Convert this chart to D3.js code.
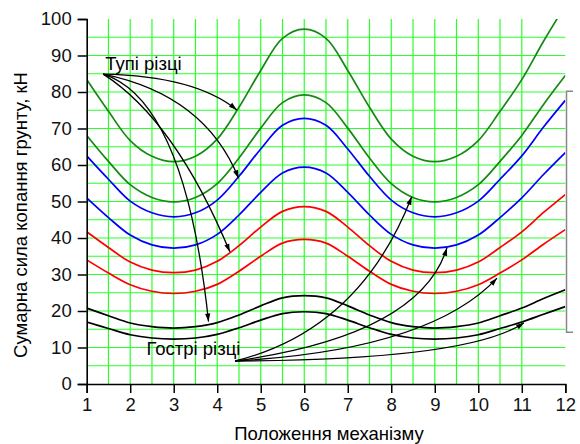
<!DOCTYPE html>
<html>
<head>
<meta charset="utf-8">
<style>
	body { margin: 0; background: #fff; }
	svg { font-family: "Liberation Sans", Arial, sans-serif; }
</style>
</head>
<body>
<svg id="chart" width="580" height="444"></svg>
<script src="https://cdnjs.cloudflare.com/ajax/libs/d3/7.8.5/d3.min.js"></script>
<script>

// positions of the mechanism
var positions = [1, 1.5, 2, 2.5, 3, 3.5, 4, 4.5, 5, 5.5, 6, 6.5, 7, 7.5, 8, 8.5, 9, 9.5, 10, 10.5, 11, 11.5, 12];

// total digging force, kN
var green1 = [83.4, 74.7, 66.7, 62.4, 60.9, 62.4, 67.1, 75.8, 85.9, 94.7, 97.2, 94.7, 85.9, 75.8, 67.1, 62.4, 60.9, 62.4, 66.7, 74.7, 83.4, 93.9, 103.7];
var green2 = [68.1, 61.0, 54.6, 51.1, 49.9, 51.1, 54.9, 61.9, 70.1, 77.1, 79.2, 77.1, 70.1, 61.9, 54.9, 51.1, 49.9, 51.1, 54.6, 61.0, 68.1, 76.6, 84.5];
var blue1  = [62.5, 56.1, 50.1, 46.9, 45.8, 46.9, 50.4, 56.9, 64.4, 70.9, 72.8, 70.9, 64.4, 56.9, 50.4, 46.9, 45.8, 46.9, 50.1, 56.1, 62.5, 70.4, 77.7];
var blue2  = [51.0, 45.6, 40.8, 38.1, 37.2, 38.1, 41.0, 46.3, 52.5, 57.8, 59.4, 57.8, 52.5, 46.3, 41.0, 38.1, 37.2, 38.1, 40.8, 45.6, 51.0, 57.4, 63.4];
var red1   = [41.7, 37.4, 33.4, 31.2, 30.5, 31.2, 33.6, 37.9, 43.0, 47.3, 48.6, 47.3, 43.0, 37.9, 33.6, 31.2, 30.5, 31.2, 33.4, 37.4, 41.7, 47.0, 51.9];
var red2   = [34.0, 30.4, 27.2, 25.4, 24.8, 25.4, 27.3, 30.9, 35.0, 38.6, 39.6, 38.6, 35.0, 30.9, 27.3, 25.4, 24.8, 25.4, 27.2, 30.4, 34.0, 38.3, 42.3];
var black1 = [20.8, 18.7, 16.7, 15.7, 15.3, 15.7, 16.8, 18.9, 21.4, 23.6, 24.2, 23.6, 21.4, 18.9, 16.8, 15.7, 15.3, 15.7, 16.7, 18.7, 20.8, 23.4, 25.8];
var black2 = [17.0, 15.2, 13.5, 12.6, 12.3, 12.6, 13.6, 15.4, 17.5, 19.3, 19.8, 19.3, 17.5, 15.4, 13.6, 12.6, 12.3, 12.6, 13.5, 15.2, 17.0, 19.1, 21.2];

var xTicks = [1, 2, 3, 4, 5, 6, 7, 8, 9, 10, 11, 12];
var yTicks = [0, 10, 20, 30, 40, 50, 60, 70, 80, 90, 100];

// annotations: arrow start, then [control, tip] for each arrow
var bluntLabel = "Тупі різці";
var bluntStart = [1.38, 84.9];
var bluntArrows = [
	[[3.49, 84.4], [4.45, 75.1]],
	[[3.72, 79.2], [4.49, 56.4]],
	[[3.03, 72.3], [4.29, 36.2]],
	[[3.26, 77.8], [3.80, 17.1]]
];
var sharpLabel = "Гострі різці";
var sharpStart = [4.41, 6.3];
var sharpArrows = [
	[[7.28, 14.8], [8.47, 51.3]],
	[[8.66, 13.4], [9.28, 37.3]],
	[[8.89, 9.3], [10.43, 29.0]],
	[[9.81, 6.6], [11.05, 16.8]]
];

var series = [
	{values: green1, color: "#138a13"},
	{values: green2, color: "#138a13"},
	{values: blue1,  color: "#0000ff"},
	{values: blue2,  color: "#0000ff"},
	{values: red1,   color: "#ff0000"},
	{values: red2,   color: "#ff0000"},
	{values: black1, color: "#000000"},
	{values: black2, color: "#000000"}
];

var pl = 86.7, pr = 565.3, pt = 19, pb = 384;

var x = d3.scaleLinear().domain([1, 12]).range([pl, pr]);
var y = d3.scaleLinear().domain([0, 100]).range([pb, pt]);

var svg = d3.select('#chart');

var defs = svg.append('defs');
defs.append('clipPath').attr('id', 'plot')
	.append('rect')
		.attr('x', pl).attr('y', pt)
		.attr('width', pr - pl).attr('height', pb - pt);
defs.append('marker')
	.attr('id', 'head')
	.attr('markerUnits', 'userSpaceOnUse')
	.attr('markerWidth', 12).attr('markerHeight', 12)
	.attr('viewBox', '-10 -6 12 12')
	.attr('refX', 0).attr('refY', 0)
	.attr('orient', 'auto')
	.append('path')
		.attr('d', 'M0,0L-8,-2.6L-8,2.6Z')
		.attr('fill', 'black');

// grid
var gx = d3.range(3, 23).map(i => i / 2);
var gy = d3.range(1, 20).map(i => i * 5);
svg.append('g').selectAll('line')
	.data(gx).enter().append('line')
		.attr('x1', d => x(d)).attr('x2', d => x(d))
		.attr('y1', y(0)).attr('y2', y(100))
		.attr('stroke', '#2bff2b').attr('stroke-width', 1.2);
svg.append('g').selectAll('line')
	.data(gy).enter().append('line')
		.attr('x1', x(1)).attr('x2', x(12))
		.attr('y1', d => y(d)).attr('y2', d => y(d))
		.attr('stroke', '#2bff2b').attr('stroke-width', 1.2);

// curves
var line = d3.line()
	.x((d, i) => x(positions[i]))
	.y(d => y(d))
	.curve(d3.curveCatmullRom);

svg.append('g').attr('clip-path', 'url(#plot)')
	.selectAll('path')
	.data(series).enter().append('path')
		.attr('d', d => line(d.values))
		.attr('fill', 'none')
		.attr('stroke', d => d.color)
		.attr('stroke-width', 1.7);

// arrows
function arrow(start, a) {
	var p = d3.path();
	p.moveTo(x(start[0]), y(start[1]));
	p.quadraticCurveTo(x(a[0][0]), y(a[0][1]), x(a[1][0]), y(a[1][1]));
	return p.toString();
}
var ann = svg.append('g');
ann.selectAll('path.blunt')
	.data(bluntArrows).enter().append('path')
		.attr('class', 'blunt')
		.attr('d', d => arrow(bluntStart, d));
ann.selectAll('path.sharp')
	.data(sharpArrows).enter().append('path')
		.attr('class', 'sharp')
		.attr('d', d => arrow(sharpStart, d));
ann.selectAll('path')
	.attr('fill', 'none')
	.attr('stroke', 'black')
	.attr('stroke-width', 1.3)
	.attr('marker-end', 'url(#head)');

svg.append('text')
	.attr('x', x(bluntStart[0]) + 2).attr('y', 69.5)
	.attr('font-size', 18.5)
	.text(bluntLabel);
svg.append('text')
	.attr('x', 146.5).attr('y', 355)
	.attr('font-size', 18.5)
	.text(sharpLabel);

// axes
var xaxis = svg.append('g')
	.attr('transform', 'translate(0,' + pb + ')');
xaxis.call(d3.axisBottom(x).tickValues(d3.range(3, 24).map(i => i / 2)).tickSize(5).tickFormat(''));
xaxis.call(d3.axisBottom(x).tickValues(xTicks).tickSize(9).tickPadding(5).tickFormat(d3.format('d')));

var yaxis = svg.append('g')
	.attr('transform', 'translate(' + pl + ',0)');
yaxis.call(d3.axisLeft(y).tickValues(d3.range(0, 21).map(i => i * 5)).tickSize(5).tickFormat(''));
yaxis.call(d3.axisLeft(y).tickValues(yTicks).tickSize(9).tickPadding(6).tickFormat(d3.format('d')));

svg.selectAll('.domain').attr('stroke-width', 1.6);
svg.selectAll('.tick line').attr('stroke-width', 1.5);
svg.selectAll('.tick text')
	.attr('font-size', 18.5)
	.attr('font-family', '"Liberation Sans", Arial, sans-serif')
	.attr('fill', '#111');

svg.append('text')
	.attr('x', (pl + pr) / 2 + 3).attr('y', 440)
	.attr('text-anchor', 'middle')
	.attr('font-size', 18.5)
	.text("Положення механізму");

svg.append('text')
	.attr('transform', 'translate(27,215) rotate(-90)')
	.attr('text-anchor', 'middle')
	.attr('font-size', 18.5)
	.text("Сумарна сила копання грунту, кН");

// clipped legend frame at the right edge
svg.append('path')
	.attr('d', 'M573,' + y(80.2) + 'H566.5V' + y(14.2) + 'H573')
	.attr('fill', 'none')
	.attr('stroke', '#888')
	.attr('stroke-width', 1.5);

</script>
</body>
</html>
